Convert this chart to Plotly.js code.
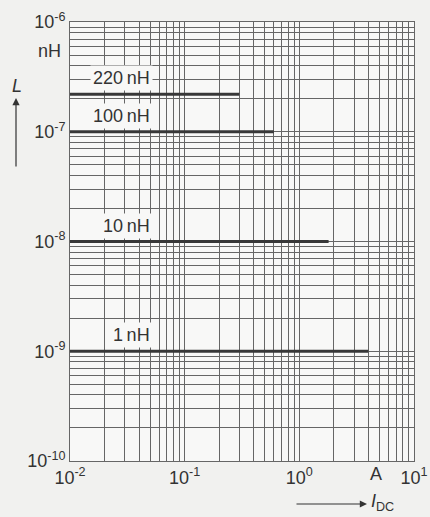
<!DOCTYPE html>
<html>
<head>
<meta charset="utf-8">
<script src="https://cdn.plot.ly/plotly-3.0.1.min.js"></script>
<style>html,body{margin:0;padding:0;background:#f1f1ef;}#chart{width:430px;height:517px;}</style>
</head>
<body>
<div id="chart"></div>
<script>
// Data
var inductances = [220e-9, 100e-9, 10e-9, 1e-9];          // H
var seriesLabels = ['220\u2009nH', '100\u2009nH', '10\u2009nH', '1\u2009nH'];
var currentStart = 0.01;                                     // A
var currentEnd = [0.3, 0.6, 1.8, 4.0];                       // A

var xDecades = [-2, -1, 0];
var xLastTick = 1;
var yDecades = [-10, -9, -8, -7];
var yLastTick = -6;
var xTickLabels = ['10<sup>-2</sup>', '10<sup>-1</sup>', '10<sup>0</sup>', '10<sup>1</sup>'];
var yTickLabels = ['10<sup>-10</sup>', '10<sup>-9</sup>', '10<sup>-8</sup>', '10<sup>-7</sup>', '10<sup>-6</sup>'];

function logTicks(decades, last, labels) {
  var vals = [], text = [];
  decades.forEach(function (d, i) {
    for (var m = 1; m <= 9; m++) {
      vals.push(m * Math.pow(10, d));
      text.push(m === 1 ? labels[i] : '');
    }
  });
  vals.push(Math.pow(10, last));
  text.push(labels[labels.length - 1]);
  return {vals: vals, text: text};
}
var xt = logTicks(xDecades, xLastTick, xTickLabels);
var yt = logTicks(yDecades, yLastTick, yTickLabels);

var traces = inductances.map(function (L, i) {
  return {
    x: [currentStart, currentEnd[i]],
    y: [L, L],
    mode: 'lines',
    line: {color: '#383838', width: 3},
    hoverinfo: 'skip',
    showlegend: false
  };
});

var tickFont = {family: '"Liberation Sans", Arial, Helvetica, sans-serif', size: 18, color: '#333'};
var labelFont = {family: '"Liberation Sans", Arial, Helvetica, sans-serif', size: 18, color: '#333'};

var annotations = inductances.map(function (L, i) {
  return {
    xref: 'x', yref: 'y',
    x: Math.log10(0.053), y: Math.log10(L),
    xanchor: 'right', yanchor: 'bottom',
    yshift: 3,
    text: seriesLabels[i],
    showarrow: false,
    font: labelFont,
    bgcolor: '#f8f8f7',
    borderpad: 2
  };
});

annotations.push(
  {xref: 'paper', yref: 'paper', x: -0.02, y: (461 - 51) / 439, xanchor: 'right', yanchor: 'middle',
   text: 'nH', showarrow: false, font: tickFont},
  {xref: 'paper', yref: 'paper', x: (17 - 70) / 344, y: (461 - 86) / 439, xanchor: 'center', yanchor: 'middle',
   text: '<i>L</i>', showarrow: false, font: labelFont},
  {xref: 'paper', yref: 'paper', x: (16 - 70) / 344, y: (461 - 98) / 439, ax: 0, ay: 70,
   text: '', showarrow: true, arrowhead: 2, arrowsize: 1.2, arrowwidth: 1.2, arrowcolor: '#333'},
  {xref: 'paper', yref: 'paper', x: (376 - 70) / 344, y: (461 - 474) / 439, xanchor: 'center', yanchor: 'middle',
   text: 'A', showarrow: false, font: tickFont},
  {xref: 'paper', yref: 'paper', x: (367 - 70) / 344, y: (461 - 504) / 439, ax: -72, ay: 0,
   text: '', showarrow: true, arrowhead: 2, arrowsize: 1.2, arrowwidth: 1.2, arrowcolor: '#333'},
  {xref: 'paper', yref: 'paper', x: (369 - 70) / 344, y: (461 - 502) / 439, xanchor: 'left', yanchor: 'middle',
   text: '<i>I</i><sub>DC</sub>', showarrow: false, font: labelFont}
);

var axisCommon = {
  type: 'log',
  tickmode: 'array',
  showgrid: true,
  gridcolor: '#666666',
  gridwidth: 1,
  zeroline: false,
  showline: true,
  linecolor: '#666666',
  linewidth: 1,
  mirror: true,
  ticks: '',
  tickfont: tickFont
};

var layout = {
  width: 430, height: 517,
  margin: {l: 70, r: 16, t: 22, b: 56},
  paper_bgcolor: '#f1f1ef',
  plot_bgcolor: '#f8f8f7',
  showlegend: false,
  xaxis: Object.assign({}, axisCommon, {range: [-2, 1], tickvals: xt.vals, ticktext: xt.text}),
  yaxis: Object.assign({}, axisCommon, {range: [-10, -6], tickvals: yt.vals, ticktext: yt.text}),
  annotations: annotations
};

Plotly.newPlot('chart', traces, layout, {staticPlot: true, displayModeBar: false});
</script>
</body>
</html>
